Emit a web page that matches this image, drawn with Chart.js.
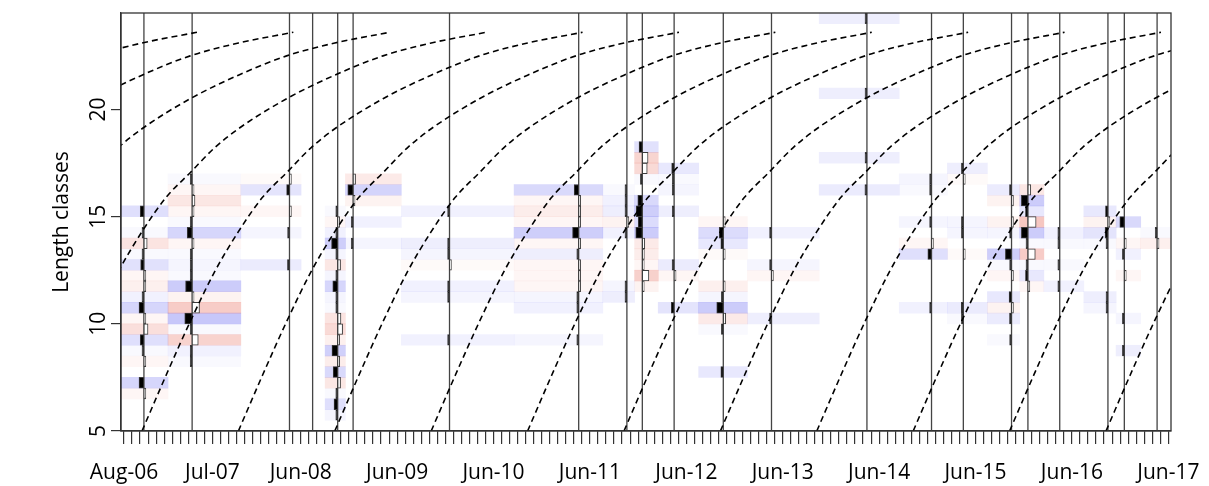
<!DOCTYPE html>
<html>
<head>
<meta charset="utf-8">
<script src="https://cdn.jsdelivr.net/npm/chart.js@4.4.1/dist/chart.umd.min.js"></script>
<style>
  html, body { margin: 0; padding: 0; background: #fff; }
</style>
</head>
<body>
<canvas id="lfq" width="1209" height="486"></canvas>
<script>
// sampling dates, decimal years
const sampleDates = [2006.79, 2007.29, 2008.30, 2008.54, 2008.80, 2008.96, 2009.96, 2011.30, 2011.80, 2011.96,
  2012.29, 2012.80, 2013.30, 2014.29, 2014.96, 2015.29, 2015.79, 2015.96, 2016.29, 2016.79, 2016.96, 2017.30];

// length class mids (0.5 cm classes, 5 - 24.5)
const lengthClasses = [5.25, 5.75, 6.25, 6.75, 7.25, 7.75, 8.25, 8.75, 9.25, 9.75,
  10.25, 10.75, 11.25, 11.75, 12.25, 12.75, 13.25, 13.75, 14.25, 14.75,
  15.25, 15.75, 16.25, 16.75, 17.25, 17.75, 18.25, 18.75, 19.25, 19.75,
  20.25, 20.75, 21.25, 21.75, 22.25, 22.75, 23.25, 23.75, 24.25];

// restructured counts per sample, one value per length class (trailing zeros left out)
const rcounts = [
  [0, 0, 0, -0.1, 0.6, 0, -0.1, 0.05, 0.45, -0.5, -0.1, 0.6, 0.15, -0.2, -0.1, 0.4, 0.05, -0.4, 0.05, 0, 0.45],
  [0, 0, 0, 0, 0, 0, 0.05, 0.15, -0.75, 0.05, 0.9, -0.9, -0.15, 0.8, 0.05, 0.1, 0.05, -0.1, 0.6, 0.05, -0.1, -0.35, -0.1, 0.05],
  [0, 0, 0, 0, 0, 0, 0, 0, 0, 0, 0, 0, 0, 0, 0, 0.25, 0, 0, 0.1, 0, -0.1, 0, 0.35, -0.05],
  [],
  [0, 0.1, 0.45, 0.05, -0.35, 0.55, -0.25, 0.7, -0.2, -0.6, -0.4, 0.05, 0.1, 0.6, 0.1, -0.35, 0.1, 0.75, 0.15, -0.1, 0.05],
  [0, 0, 0, 0, 0, 0, 0, 0, 0, 0, 0, 0, 0, 0, 0, 0, 0, 0.1, 0, 0.15, 0, -0.15, 0.65, -0.3],
  [0, 0, 0, 0, 0, 0, 0, 0, 0.15, 0, 0, 0, 0.1, 0.15, 0, -0.05, 0.1, 0.2, 0, 0, 0.15],
  [0, 0, 0, 0, 0, 0, 0, 0, 0.1, 0, 0, 0.15, 0.1, -0.1, -0.1, -0.1, 0.2, -0.1, 0.75, -0.1, -0.25, -0.1, 0.55],
  [0, 0, 0, 0, 0, 0, 0, 0, 0, 0, 0, 0, 0.2, 0.1, 0, 0, 0, 0, 0.15, -0.15, 0.2, 0.15, 0.05],
  [0, 0, 0, 0, 0, 0, 0, 0, 0, 0, 0, 0, 0, -0.15, -0.8, -0.1, -0.25, -0.3, 0.8, 0.5, 0.75, 0.55, 0, 0.05, -0.6, -0.7, 0.4],
  [0, 0, 0, 0, 0, 0, 0, 0, 0, 0, 0, 0.35, 0, 0, -0.1, 0.25, 0, 0, 0, 0, 0.2, 0, 0.1, 0.05, 0.3],
  [0, 0, 0, 0, 0, 0.3, 0, 0, 0, 0.05, -0.3, 0.8, 0.1, -0.2, 0, 0, -0.05, 0.3, 0.5, -0.1],
  [0, 0, 0, 0, 0, 0, 0, 0, 0, 0, 0.2, 0, 0, 0, -0.1, 0.1, 0, 0, 0.15],
  [0, 0, 0, 0, 0, 0, 0, 0, 0, 0, 0, 0, 0, 0, 0, 0, 0, 0, 0, 0, 0, 0, 0.25, 0, 0, 0.2, 0, 0, 0, 0, 0, 0.2, 0, 0, 0, 0, 0, 0, 0.2],
  [0, 0, 0, 0, 0, 0, 0, 0, 0, 0, 0, 0.15, 0, 0, 0, 0, 0.45, -0.1, 0, 0.1, 0, 0, 0.05, 0.1],
  [0, 0, 0, 0, 0, 0, 0, 0, 0, 0, 0.05, 0.25, 0, 0, 0, 0, -0.05, 0, 0.1, 0.1, 0, 0, 0, -0.05, 0.2],
  [0, 0, 0, 0, 0, 0, 0, 0, 0.05, 0, 0.25, -0.15, 0.3, 0, -0.1, 0.05, 0.75, 0, 0.1, -0.15, 0, -0.15, 0.25],
  [0, 0, 0, 0, 0, 0, 0, 0, 0, 0, 0, 0, 0, -0.1, 0.3, 0.05, -0.9, 0.05, 0.8, -1.0, 0.3, 0.8, -0.35],
  [0, 0, 0, 0, 0, 0, 0, 0, 0, 0, 0, 0, 0, 0.15, 0, 0.05, 0, 0.05, 0.15],
  [0, 0, 0, 0, 0, 0, 0, 0, 0, 0, 0, 0.1, 0.2, 0, 0, 0, 0, 0.05, 0.35, -0.15, 0.3],
  [0, 0, 0, 0, 0, 0, 0, 0.2, 0, 0, 0.1, 0, 0, 0, -0.1, 0, 0.15, -0.1, 0, 0.55],
  [0, 0, 0, 0, 0, 0, 0, 0, 0, 0, 0, 0, 0, 0, 0, 0, 0, -0.2, 0.05]
];

// x axis labels
const tickPositions = [2006.5833, 2007.5, 2008.4167, 2009.4167, 2010.4167, 2011.4167,
  2012.4167, 2013.4167, 2014.4167, 2015.4167, 2016.4167, 2017.4167];
const tickLabels = ['Aug-06', 'Jul-07', 'Jun-08', 'Jun-09', 'Jun-10', 'Jun-11',
  'Jun-12', 'Jun-13', 'Jun-14', 'Jun-15', 'Jun-16', 'Jun-17'];
const yTicks = [5, 10, 15, 20];

// growth curve: years after reaching 5 cm -> length
const curveAge = [0, 0.25, 0.5, 0.75, 1, 1.25, 1.5, 1.75, 2, 2.5, 3, 3.5, 4, 4.57];
const curveLength = [5, 7.6, 10.1, 12.4, 14.3, 15.9, 17.05, 18.2, 19.1, 20.5, 21.6, 22.5, 23.1, 23.6];
// time each cohort passes 5 cm
const cohortStart = [2002.77, 2003.77, 2004.77, 2005.77, 2006.77, 2007.77, 2008.77, 2009.77,
  2010.77, 2011.77, 2012.77, 2013.77, 2014.77, 2015.77, 2016.77];

const histScale = 0.085;   // years of width per unit of rcounts
const minBar = 0.02;

// monthly ticks Aug-06 .. Jun-17
const monthTicks = [];
for (let m = 0; m <= 130; m++) monthTicks.push(2006 + (7 + m) / 12);

function labelFor(v) {
  const i = tickPositions.findIndex(p => Math.abs(p - v) < 0.02);
  return i < 0 ? '' : tickLabels[i];
}

function shade(v) {
  const a = (0.3 * Math.pow(Math.abs(v), 0.8)).toFixed(3);
  return v > 0 ? `rgba(50,50,235,${a})` : `rgba(225,70,50,${a})`;
}

function cellEdges(i) {
  const d = sampleDates;
  const left = i === 0 ? d[0] - (d[1] - d[0]) / 2 : (d[i - 1] + d[i]) / 2;
  const right = i === d.length - 1 ? d[i] + (d[i] - d[i - 1]) / 2 : (d[i] + d[i + 1]) / 2;
  return [left, right];
}

const barOpts = { grouped: false, barPercentage: 1, categoryPercentage: 1 };
const datasets = [];

sampleDates.forEach((date, i) => {
  const [l, r] = cellEdges(i);
  const cells = [], cellCols = [], bars = [], barCols = [];
  lengthClasses.forEach((len, b) => {
    const v = rcounts[i][b] || 0;
    if (!v) return;
    cells.push({ x: [l, r], y: len });
    cellCols.push(shade(v));
    const w = Math.max(Math.abs(v) * histScale, minBar);
    bars.push({ x: v > 0 ? [date - w, date] : [date, date + w], y: len });
    barCols.push(v > 0 ? '#000' : '#fff');
  });
  datasets.push({ type: 'bar', data: cells, backgroundColor: cellCols, borderWidth: 0, order: 4, ...barOpts });
  datasets.push({ type: 'bar', data: bars, backgroundColor: barCols, borderColor: '#3a3a3a',
    borderWidth: 1, borderSkipped: false, order: 2, ...barOpts });
});

// vertical line at each sample
const sampleLines = [];
sampleDates.forEach(d => sampleLines.push({ x: d, y: 5 }, { x: d, y: 24.5 }, { x: d, y: null }));
datasets.push({ type: 'line', indexAxis: 'x', data: sampleLines, borderColor: '#444', borderWidth: 1.3,
  pointRadius: 0, spanGaps: false, order: 3 });

// growth curves
cohortStart.forEach(t0 => {
  datasets.push({
    type: 'line', indexAxis: 'x',
    data: curveAge.map((a, j) => ({ x: t0 + a, y: curveLength[j] })),
    borderColor: '#000', borderWidth: 1.6, borderDash: [6, 4],
    pointRadius: 0, cubicInterpolationMode: 'monotone', order: 1
  });
});

const boxPlugin = {
  id: 'box',
  afterDatasetsDraw(chart) {
    const { ctx, chartArea: a } = chart;
    ctx.save();
    ctx.strokeStyle = '#333';
    ctx.lineWidth = 1.3;
    ctx.strokeRect(a.left, a.top, a.right - a.left, a.bottom - a.top);
    ctx.restore();
  }
};

const font = { family: "'Open Sans', sans-serif", size: 21 };

new Chart(document.getElementById('lfq'), {
  type: 'bar',
  data: { datasets },
  plugins: [boxPlugin],
  options: {
    responsive: false,
    animation: false,
    indexAxis: 'y',
    layout: { padding: { left: 0, right: 38, top: 13, bottom: 0 } },
    plugins: { legend: { display: false }, tooltip: { enabled: false } },
    scales: {
      x: {
        type: 'linear', min: 2006.5522, max: 2017.4442, offset: false,
        afterBuildTicks: s => { s.ticks = monthTicks.map(v => ({ value: v })); },
        afterFit: s => { s.height = 55; },
        grid: { drawOnChartArea: false, drawTicks: true, tickLength: 13, color: '#333', lineWidth: 1.2, offset: false },
        border: { display: true, color: '#333', width: 1.3 },
        ticks: { autoSkip: false, maxRotation: 0, minRotation: 0, padding: 0, color: '#000',
          font: { ...font, lineHeight: 2.75 }, callback: v => labelFor(v) }
      },
      y: {
        type: 'linear', min: 5, max: 24.5, offset: false,
        afterBuildTicks: s => { s.ticks = yTicks.map(v => ({ value: v })); },
        afterFit: s => { s.width = 121; },
        grid: { drawOnChartArea: false, tickLength: 10, color: '#333', lineWidth: 1.2, offset: false },
        border: { display: true, color: '#333', width: 1.3 },
        ticks: { minRotation: 90, maxRotation: 90, crossAlign: 'center', padding: 0, color: '#000', font },
        title: { display: true, text: 'Length classes', color: '#000', font, padding: { top: 49, bottom: 0 } }
      }
    }
  }
});
</script>
</body>
</html>
